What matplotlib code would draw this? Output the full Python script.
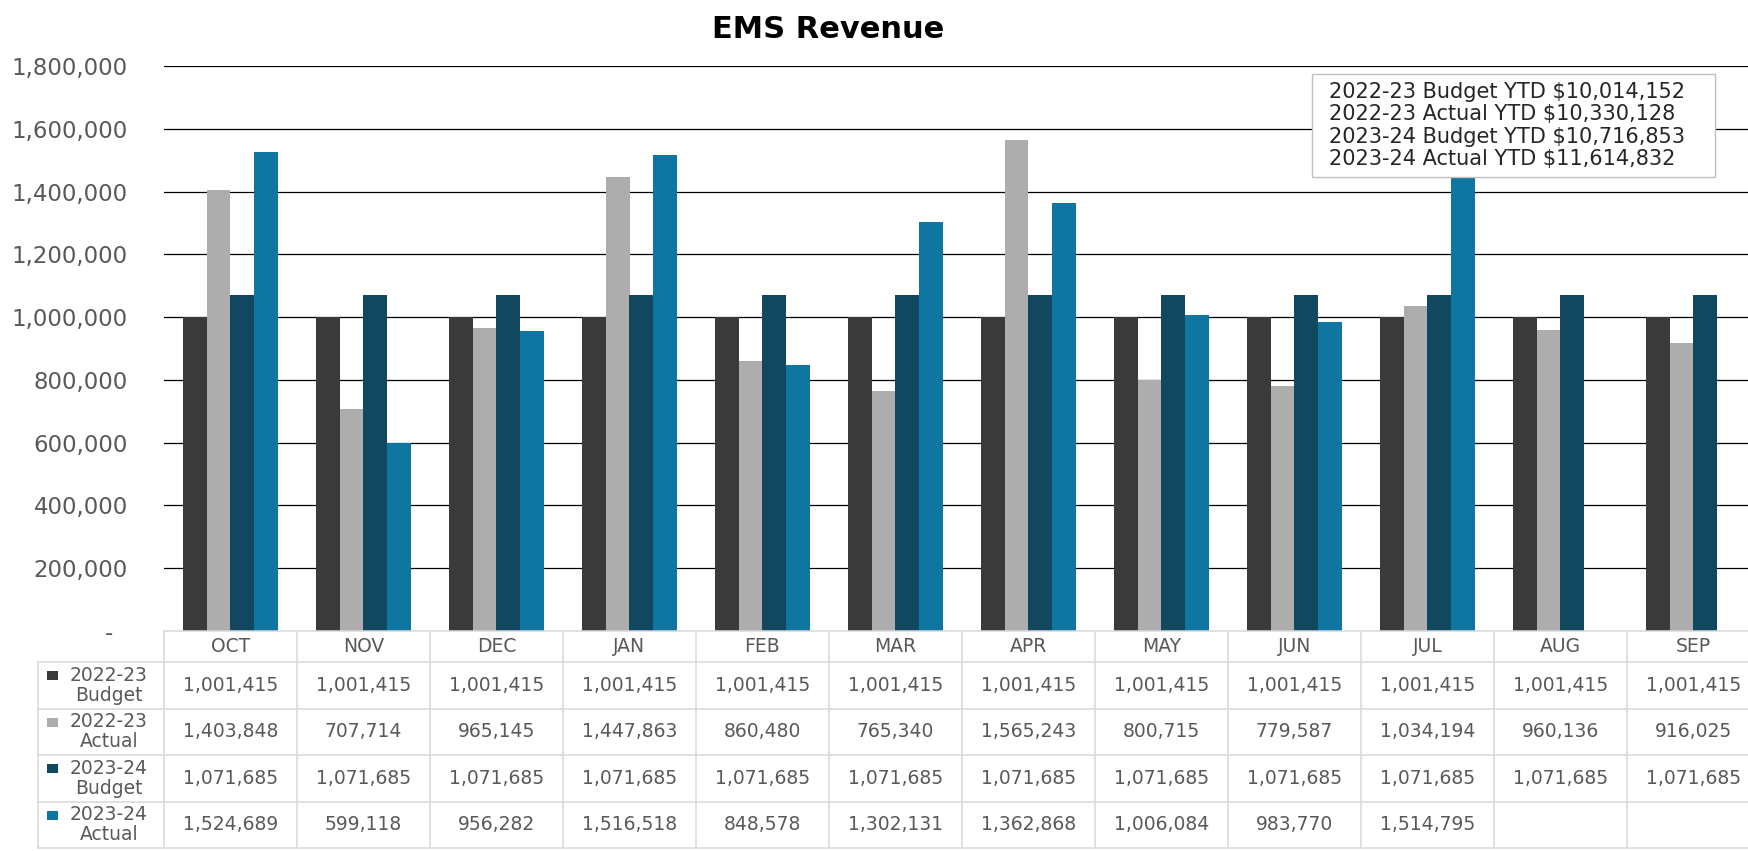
import numpy as np
import matplotlib.pyplot as plt
from matplotlib.patches import Rectangle
from matplotlib.ticker import FuncFormatter

months = ['OCT', 'NOV', 'DEC', 'JAN', 'FEB', 'MAR', 'APR', 'MAY', 'JUN', 'JUL', 'AUG', 'SEP']
budget_2223 = [1001415, 1001415, 1001415, 1001415, 1001415, 1001415,
               1001415, 1001415, 1001415, 1001415, 1001415, 1001415]
actual_2223 = [1403848, 707714, 965145, 1447863, 860480, 765340,
               1565243, 800715, 779587, 1034194, 960136, 916025]
budget_2324 = [1071685, 1071685, 1071685, 1071685, 1071685, 1071685,
               1071685, 1071685, 1071685, 1071685, 1071685, 1071685]
actual_2324 = [1524689, 599118, 956282, 1516518, 848578, 1302131,
               1362868, 1006084, 983770, 1514795, None, None]
series_names = ['2022-23\nBudget', '2022-23\nActual', '2023-24\nBudget', '2023-24\nActual']
colors = ['#3a3a3a', '#adadad', '#11475f', '#0e76a0']

ytd_labels = ['2022-23 Budget YTD', '2022-23 Actual YTD', '2023-24 Budget YTD', '2023-24 Actual YTD']
ytd_values = [10014152, 10330128, 10716853, 11614832]

series = [budget_2223, actual_2223, budget_2324, actual_2324]

W, H = 1749, 851
fig = plt.figure(figsize=(W / 100, H / 100), dpi=100)
plt.rcParams['font.family'] = 'DejaVu Sans'
txt_c = '#595959'

# main axes (pixel layout of the reference, last column runs off the right edge)
left, right, top, zero = 164, 164 + 12 * 133, 66, 631
ax = fig.add_axes([left / W, 1 - zero / H, (right - left) / W, (zero - top) / H])
x = np.arange(len(months))
w = 0.18
for i, (vals, c) in enumerate(zip(series, colors)):
    ax.bar(x + (i - 1.5) * w, np.array(vals, dtype=float), w, color=c, zorder=2)

ax.set_xlim(-0.5, 11.5)
ax.set_ylim(0, 1800000)
yt = np.arange(0, 1800001, 200000)
ax.set_yticks(yt)
ax.yaxis.set_major_formatter(FuncFormatter(lambda v, p: '-  ' if v == 0 else f'{int(v):,}'))
for t in yt[1:]:
    ax.axhline(t, color='black', lw=0.9, zorder=1)
ax.set_xticks([])
ax.tick_params(axis='y', length=0, pad=26, labelsize=16.5, labelcolor=txt_c)
for s in ax.spines.values():
    s.set_visible(False)

fig.text(828 / W, 1 - 29 / H, 'EMS Revenue', ha='center', va='center',
         fontsize=22, fontweight='bold', color='black')

# data table under the chart
tbl_bottom = 848
tax = fig.add_axes([left / W, 1 - tbl_bottom / H, (right - left) / W, (tbl_bottom - zero) / H])
tax.set_xlim(-0.5, 11.5)
tax.set_ylim(tbl_bottom - zero, 0)
tax.axis('off')
grid_c = '#d9d9d9'
lab_left = -0.5 - 126 / 133
row_edges = [0, 31, 77.5, 124, 170.5, 217]

tax.plot([-0.5, 11.5], [0, 0], color=grid_c, lw=1.1, clip_on=False)
for yy in row_edges[1:]:
    tax.plot([lab_left, 11.5], [yy, yy], color=grid_c, lw=1.1, clip_on=False)
for xx in np.arange(-0.5, 12.5):
    tax.plot([xx, xx], [0, 217], color=grid_c, lw=1.1, clip_on=False)
tax.plot([lab_left, lab_left], [31, 217], color=grid_c, lw=1.1, clip_on=False)

for j, m in enumerate(months):
    tax.text(j, 16, m, ha='center', va='center', fontsize=13.5, color=txt_c)

for i, (name, vals, c) in enumerate(zip(series_names, series, colors)):
    yc = (row_edges[i + 1] + row_edges[i + 2]) / 2
    tax.add_patch(Rectangle((lab_left + 9 / 133, yc - 14), 11 / 133, 9,
                            facecolor=c, edgecolor='none', clip_on=False))
    tax.text(lab_left + 71 / 133, yc, name, ha='center', va='center',
             fontsize=13.5, color=txt_c, linespacing=1.05, clip_on=False)
    for j, v in enumerate(vals):
        if v is None:
            continue
        tax.text(j, yc, f'{v:,}', ha='center', va='center', fontsize=13.5, color=txt_c)

# YTD text box
fig.add_artist(Rectangle((1312 / W, 1 - 177 / H), 403 / W, 103 / H, transform=fig.transFigure,
                         facecolor='white', edgecolor='#bfbfbf', lw=1, zorder=5))
for k, (lab, val) in enumerate(zip(ytd_labels, ytd_values)):
    fig.text(1329 / W, 1 - (92 + 22.3 * k) / H, f'{lab} ${val:,}', ha='left', va='center',
             fontsize=15, color='#262626', zorder=6)

fig.savefig('out.png', dpi=100)
